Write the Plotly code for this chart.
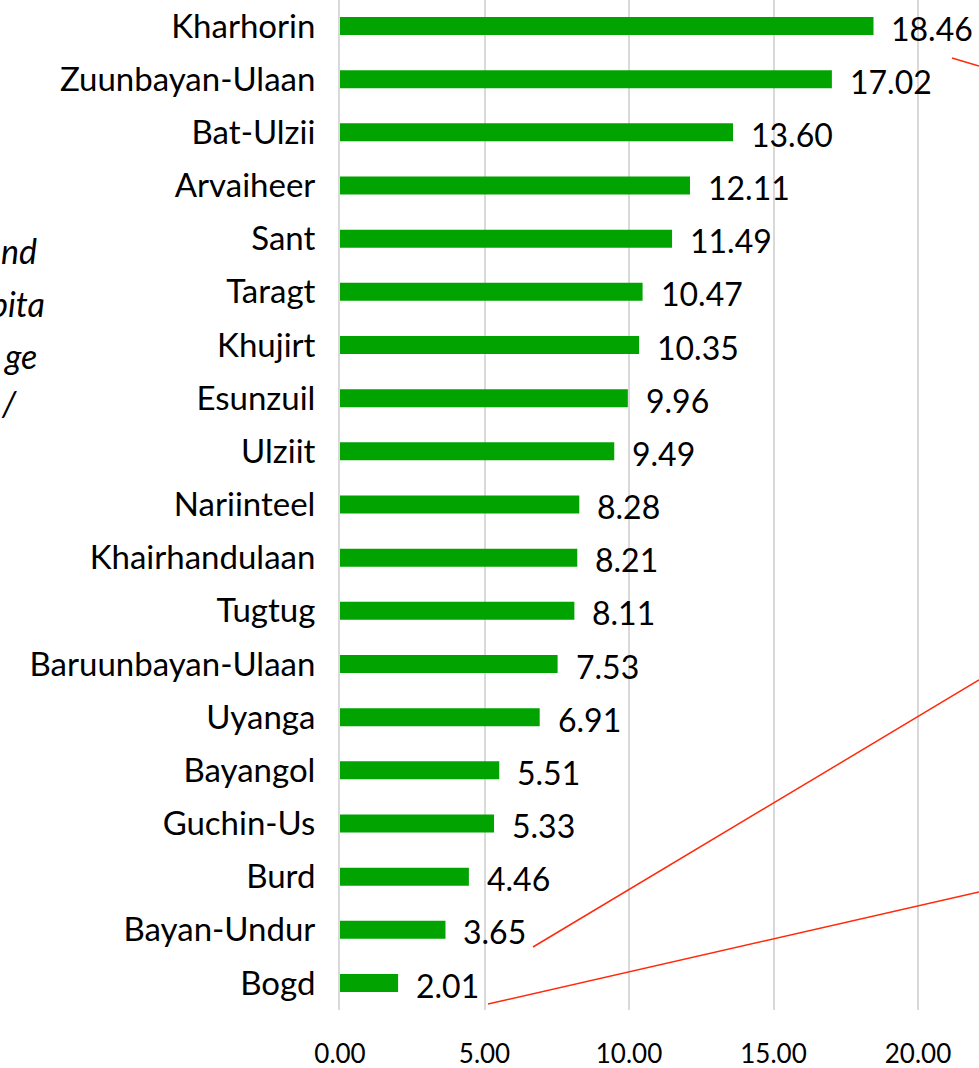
import plotly.graph_objects as go

categories = ["Kharhorin", "Zuunbayan-Ulaan", "Bat-Ulzii", "Arvaiheer", "Sant", "Taragt",
              "Khujirt", "Esunzuil", "Ulziit", "Nariinteel", "Khairhandulaan", "Tugtug",
              "Baruunbayan-Ulaan", "Uyanga", "Bayangol", "Guchin-Us", "Burd",
              "Bayan-Undur", "Bogd"]
values = [18.46, 17.02, 13.60, 12.11, 11.49, 10.47, 10.35, 9.96, 9.49, 8.28, 8.21, 8.11,
          7.53, 6.91, 5.51, 5.33, 4.46, 3.65, 2.01]
x_ticks = [0, 5, 10, 15, 20]
x_tick_labels = ["0.00", "5.00", "10.00", "15.00", "20.00"]
side_fragments = ["nd", "pita", "ge", "/"]

W, H = 979, 1068
PLOT_L, PLOT_R, PLOT_T, PLOT_B = 340, 979, 0, 1010   # pixels of plot area
FONT = "Lato"
PX_PER_UNIT = 28.9
BAND = 53.17
FIRST_CENTER, LAST_CENTER = 26, 983

pw = PLOT_R - PLOT_L
ph = PLOT_B - PLOT_T
y_top = 0 - (FIRST_CENTER - PLOT_T) / BAND
y_bot = (len(categories) - 1) + (PLOT_B - LAST_CENTER) / BAND

def px_to_paper(px, py):
    return (px - PLOT_L) / pw, (PLOT_B - py) / ph

fig = go.Figure()
fig.add_trace(go.Bar(
    x=values, y=categories, orientation="h",
    marker=dict(color="#00A300", line=dict(width=0)),
    hoverinfo="x+y",
))

ann = []
for c, v in zip(categories, values):
    ann.append(dict(x=v, y=c, xref="x", yref="y", text=f"{v:.2f}", showarrow=False,
                    xanchor="left", yanchor="middle", xshift=16, yshift=-2,
                    font=dict(family=FONT, size=32, color="#000000")))

# cropped italic axis-title fragments at the left edge
frag_pos = [(39, 250), (47, 303), (39, 355), (19, 402)]
for t, (px, py) in zip(side_fragments, frag_pos):
    x, y = px_to_paper(px, py)
    ann.append(dict(x=x, y=y, xref="paper", yref="paper", text=f"<i>{t}</i>",
                    showarrow=False, xanchor="right", yanchor="middle",
                    font=dict(family=FONT, size=34, color="#000000")))

red_lines = [((533, 947), (979, 680)), ((488, 1004), (979, 892)), ((952, 58), (979, 66))]
shapes = []
for (a, b) in red_lines:
    x0, y0 = px_to_paper(*a)
    x1, y1 = px_to_paper(*b)
    shapes.append(dict(type="line", xref="paper", yref="paper", x0=x0, y0=y0, x1=x1, y1=y1,
                       line=dict(color="#FF2A0A", width=1.5)))

fig.update_layout(
    width=W, height=H,
    margin=dict(l=PLOT_L, r=W - PLOT_R, t=PLOT_T, b=H - PLOT_B, pad=0, autoexpand=False),
    paper_bgcolor="white", plot_bgcolor="white",
    bargap=0.66, showlegend=False,
    annotations=ann, shapes=shapes,
    xaxis=dict(range=[0, pw / PX_PER_UNIT], tickvals=x_ticks, ticktext=x_tick_labels,
               showgrid=True, gridcolor="#D9D9D9", gridwidth=2,
               zeroline=False, showline=False, ticks="", ticklabelstandoff=26,
               automargin=False,
               tickfont=dict(family=FONT, size=26, color="#000000")),
    yaxis=dict(range=[y_bot, y_top], showgrid=False, zeroline=False,
               showline=True, linecolor="#D9D9D9", linewidth=2,
               ticks="", ticklabelstandoff=16, automargin=False,
               tickfont=dict(family=FONT, size=33, color="#000000")),
)
fig.write_html("out.html", config={"displayModeBar": False},
               post_script="document.body.style.margin='0px';")
